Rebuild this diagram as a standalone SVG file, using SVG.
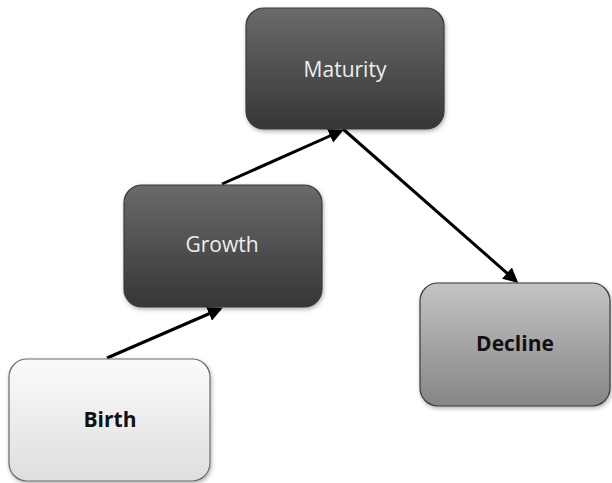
<svg xmlns="http://www.w3.org/2000/svg" width="612" height="483" viewBox="0 0 612 483">
<style>
.dark{stroke:#3a3a3a;stroke-width:1.2}
.lbl{font-family:"Open Sans","Liberation Sans",sans-serif;font-size:21px;text-anchor:middle}
.w{fill:#eeeeee}
.b{fill:#111;font-weight:bold;font-size:21px}
.conn{stroke:#000;stroke-width:3;fill:none;marker-end:url(#ah)}
</style>
<defs>
<linearGradient id="gDark" x1="0" y1="0" x2="0" y2="1">
<stop offset="0" stop-color="#6a6a6a"/><stop offset="1" stop-color="#363636"/>
</linearGradient>
<linearGradient id="gLight" x1="0" y1="0" x2="0" y2="1">
<stop offset="0" stop-color="#fbfbfb"/><stop offset="1" stop-color="#dedede"/>
</linearGradient>
<linearGradient id="gMid" x1="0" y1="0" x2="0" y2="1">
<stop offset="0" stop-color="#c4c4c4"/><stop offset="1" stop-color="#858585"/>
</linearGradient>
<marker id="ah" markerWidth="5" markerHeight="5" refX="4" refY="2.5" orient="auto" markerUnits="strokeWidth">
<path d="M0,0 L5,2.5 L0,5 Z" fill="#000"/>
</marker>
<filter id="sh" x="-10%" y="-10%" width="120%" height="125%">
<feDropShadow dx="1" dy="2" stdDeviation="2" flood-color="#000" flood-opacity="0.3"/>
</filter>
</defs>
<g id="connectors">
<line class="conn" x1="107" y1="358" x2="220" y2="309"/>
<line class="conn" x1="222" y1="184" x2="341" y2="131"/>
<line class="conn" x1="343" y1="129" x2="516" y2="281"/>
</g>
<g id="maturity">
<rect x="246" y="8" width="198" height="121" rx="18" fill="url(#gDark)" class="dark" filter="url(#sh)"/>
<text x="345" y="77" class="lbl w">Maturity</text>
</g>
<g id="growth">
<rect x="124" y="185" width="198" height="122" rx="18" fill="url(#gDark)" class="dark" filter="url(#sh)"/>
<text x="222" y="252" class="lbl w">Growth</text>
</g>
<g id="birth">
<rect x="9" y="359" width="201" height="122" rx="18" fill="url(#gLight)" stroke="#6a6a6a" stroke-width="1.2" filter="url(#sh)"/>
<text x="110" y="427" class="lbl b">Birth</text>
</g>
<g id="decline">
<rect x="420" y="283" width="190" height="123" rx="18" fill="url(#gMid)" stroke="#3a3a3a" stroke-width="1.2" filter="url(#sh)"/>
<text x="515" y="351" class="lbl b">Decline</text>
</g>
</svg>
